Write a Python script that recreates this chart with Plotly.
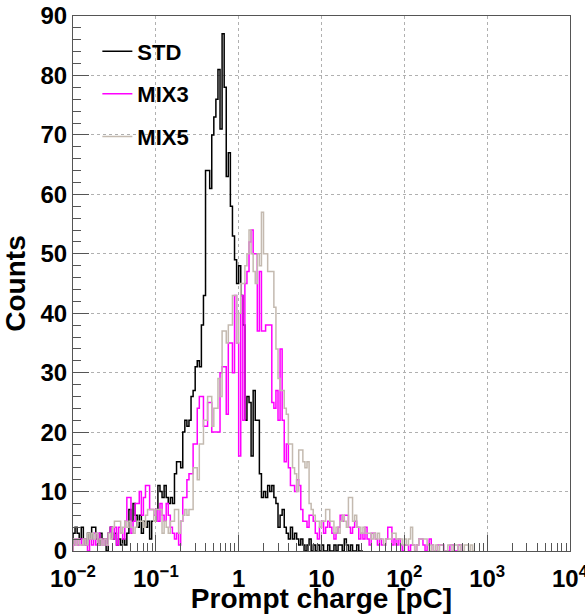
import plotly.graph_objects as go

# Histogram binning: uniform in log10(charge), 1e-2 .. 1e4 pC
LOG_MIN = -2.0
LOG_MAX = 4.0
N_BINS = 240

# Counts per bin (starting at bin 0)
STD = [
    3, 4, 3, 2, 4,   2, 1, 3, 2, 4,   4, 2, 1, 3, 2,   2, 0, 3, 4, 2,
    3, 1, 2, 1, 2,   1, 3, 7, 5, 8,   6, 4, 6, 3, 5,   4, 5, 2, 5, 5,
    7, 11, 10, 9, 11,   9, 8, 9, 8, 13,   15, 15, 14, 20, 22,   21, 22, 26, 27, 31,
    32, 31, 38, 43, 64,   64, 61, 70, 73, 76,   81, 71, 87, 78, 63,   67, 58, 53, 49, 45,
    48, 43, 38, 22, 26,   25, 16, 27, 22, 22,   13, 9, 10, 9, 11,   10, 11, 9, 8, 4,
    6, 7, 4, 3, 2,   4, 2, 3, 2, 1,   2, 1, 0, 1, 2,   0, 1, 0, 1, 0,
    1, 0, 0, 1, 0,   0, 1, 0, 1, 1,   0, 2, 1, 0, 1,   0, 0, 1, 0, 0,
]

MIX3 = [
    1, 2, 1, 2, 1,   2, 1, 0, 2, 1,   3, 1, 3, 2, 1,   2, 1, 3, 4, 2,
    4, 1, 4, 3, 2,   5, 9, 9, 3, 5,   8, 8, 10, 6, 9,   11, 11, 7, 7, 6,
    7, 5, 8, 6, 5,   8, 6, 4, 3, 2,   3, 1, 5, 9, 9,   12, 13, 13, 18, 18,
    24, 26, 26, 21, 21,   25, 25, 20, 20, 20,   20, 30, 31, 31, 23,   35, 35, 30, 43, 35,
    16, 43, 22, 45, 47,   52, 54, 50, 50, 37,   47, 37, 37, 38, 38,   38, 25, 24, 27, 22,
    34, 22, 15, 18, 14,   11, 11, 10, 12, 11,   7, 5, 5, 4, 6,   6, 5, 3, 2, 4,
    5, 3, 4, 5, 4,   3, 2, 3, 4, 6,   5, 6, 6, 4, 3,   4, 5, 4, 2, 3,
    2, 4, 2, 1, 3,   3, 2, 1, 2, 1,   1, 2, 4, 4, 1,   2, 1, 2, 1, 0,
    1, 1, 0, 1, 1,   0, 1, 2, 2, 1,   0, 1, 2, 1, 0,   0, 1, 1, 1, 0,
    0, 0, 1, 1, 0,   0, 1, 1,
]

MIX5 = [
    2, 1, 2, 1, 1,   2, 1, 3, 2, 3,   2, 3, 1, 2, 1,   2, 1, 3, 2, 4,
    5, 5, 5, 3, 4,   5, 4, 5, 4, 3,   4, 5, 5, 5, 4,   6, 7, 7, 7, 5,
    7, 7, 7, 3, 5,   4, 3, 5, 5, 7,   7, 3, 5, 6, 7,   6, 7, 7, 14, 14,
    12, 18, 18, 22, 22,   26, 26, 21, 24, 24,   29, 26, 37, 37, 35,   38, 38, 43, 43, 35,
    40, 45, 45, 48, 50,   54, 50, 47, 45, 50,   48, 57, 50, 50, 47,   47, 47, 41, 34, 29,
    27, 27, 24, 23, 18,   18, 14, 13, 10, 17,   17, 15, 14, 15, 8,   7, 6, 5, 5, 4,
    5, 5, 7, 7, 5,   5, 3, 4, 3, 5,   6, 5, 4, 9, 9,   5, 6, 4, 4, 3,
    4, 3, 3, 3, 2,   3, 2, 3, 2, 2,   1, 2, 2, 2, 3,   3, 2, 2, 2, 1,
    2, 1, 2, 4, 1,   0, 1, 2, 2, 2,   2, 1, 0, 1, 0,   1, 0, 1, 1, 0,
    0, 1, 1, 0, 1,   1, 0, 1, 0, 1,   1, 0, 1, 0,
]

SERIES_NAMES = ["STD", "MIX3", "MIX5"]
SERIES_COLORS = ["#000000", "#ff00ff", "#c4bab0"]

X_TICK_VALS = [1e-2, 1e-1, 1, 10, 1e2, 1e3, 1e4]
X_TICK_TEXT = ["10<sup>\u22122</sup>", "10<sup>\u22121</sup>", "1", "10",
               "10<sup>2</sup>", "10<sup>3</sup>", "10<sup>4</sup>"]
X_MINOR_VALS = [m * 10.0 ** d for d in range(-2, 4) for m in range(2, 10)]

FONT = "Liberation Sans, Arial, Helvetica, sans-serif"


def bin_edges(n):
    w = (LOG_MAX - LOG_MIN) / N_BINS
    return [10 ** (LOG_MIN + i * w) for i in range(n + 1)]


def step_outline(vals):
    e = bin_edges(len(vals))
    xs = [e[0]] + e[:len(vals)] + [e[len(vals)]]
    ys = [0] + list(vals) + [0]
    return xs, ys


fig = go.Figure()
for i, (name, vals, col) in enumerate(zip(SERIES_NAMES, [STD, MIX3, MIX5], SERIES_COLORS)):
    xs, ys = step_outline(vals)
    fig.add_trace(go.Scatter(
        x=xs, y=ys, mode="lines", name=name,
        line=dict(color=col, width=1.5, shape="hv"),
        legendgroup="g%d" % i, hoverinfo="skip",
    ))

fig.update_layout(
    width=585, height=614,
    margin=dict(l=73, r=15, t=16, b=63, autoexpand=False),
    paper_bgcolor="white", plot_bgcolor="white",
    font=dict(family=FONT, color="black", weight="bold"),
    showlegend=True,
    legend=dict(
        x=0.049, y=0.973, xanchor="left", yanchor="top",
        bgcolor="rgba(0,0,0,0)", borderwidth=0,
        font=dict(family=FONT, size=22, color="black", weight="bold"),
        itemwidth=30, tracegroupgap=11, traceorder="grouped",
    ),
)

fig.update_xaxes(
    type="log", range=[LOG_MIN, LOG_MAX], automargin=False,
    tickmode="array", tickvals=X_TICK_VALS, ticktext=X_TICK_TEXT,
    ticklabeloverflow="allow", ticklabelstandoff=6,
    tickfont=dict(family=FONT, size=24, color="black", weight="bold"),
    ticks="inside", ticklen=16, tickwidth=1, tickcolor="#555555",
    minor=dict(tickmode="array", tickvals=X_MINOR_VALS, ticks="inside",
               ticklen=8, tickwidth=1, tickcolor="#555555", showgrid=False),
    showgrid=True, gridcolor="#b0b0b0", griddash="dot", gridwidth=1,
    showline=True, linecolor="#555555", linewidth=1, mirror=True,
    zeroline=False,
    title=dict(text="Prompt charge [pC]", standoff=0,
               font=dict(family=FONT, size=28, color="black", weight="bold")),
)

fig.update_yaxes(
    range=[0, 90], tickmode="linear", tick0=0, dtick=10, automargin=False,
    ticklabeloverflow="allow",
    tickfont=dict(family=FONT, size=24, color="black", weight="bold"),
    ticks="inside", ticklen=16, tickwidth=1, tickcolor="#555555",
    minor=dict(dtick=2, ticks="inside", ticklen=8, tickwidth=1,
               tickcolor="#555555", showgrid=False),
    showgrid=True, gridcolor="#b0b0b0", griddash="dot", gridwidth=1,
    showline=True, linecolor="#555555", linewidth=1, mirror=True,
    zeroline=True, zerolinecolor="#101060", zerolinewidth=2,
    title=dict(text="Counts", standoff=16,
               font=dict(family=FONT, size=28, color="black", weight="bold")),
)

# remove the browser's default 8 px page margin so the figure sits at (0, 0)
fig.write_html("out.html",
               config={"displayModeBar": False},
               post_script="document.body.style.margin='0';document.body.style.overflow='hidden';")
